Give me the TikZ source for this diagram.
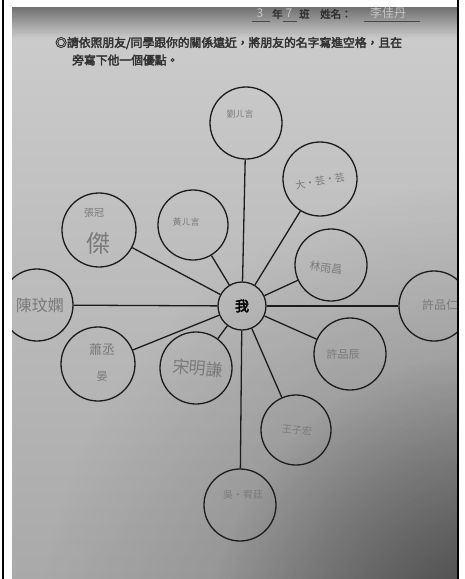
\documentclass[tikz,border=0pt]{standalone}
\usepackage{fontspec}
\usetikzlibrary{fadings}
\newfontfamily\cjk[AutoFakeBold=3]{Noto Sans CJK TC}
\definecolor{ink}{HTML}{1C1C1C}
\definecolor{pencil}{HTML}{7A7A7A}
\definecolor{paperA}{HTML}{CDCDCD}
\definecolor{paperB}{HTML}{A9A9A9}
\tikzfading[name=dimcorner,inner color=transparent!0,outer color=transparent!100]

\begin{document}
\begin{tikzpicture}[x=1pt,y=-1pt,
    ring/.style={circle,draw=ink,line width=1.3pt,minimum size=#1,inner sep=0pt},
    spoke/.style={draw=ink,line width=1.3pt},
    hand/.style={text=pencil,font=\cjk\fontsize{#1}{#1}\selectfont,inner sep=0pt},
    printed/.style={text=ink!90,font=\cjk\bfseries\fontsize{11.8}{13}\selectfont,inner sep=0pt,anchor=west}]
  \useasboundingbox (0,0) rectangle (465,579);
  \fill[white] (0,0) rectangle (465,579);
  % the photographed sheet
  \begin{scope}
    \clip (12,7) rectangle (457,579);
    \shade[top color=paperA,bottom color=paperB] (12,7) rectangle (457,579);
    % darker lower right corner, smooth
    \fill[black,fill opacity=0.3,path fading=dimcorner] (500,640) circle (460);
    \fill[black,fill opacity=0.45,path fading=dimcorner] (500,640) circle (290);
    \fill[black,fill opacity=0.45,path fading=south] (12,7) rectangle (457,38);
    % heading
    \node[hand=12,text=gray!45] (grade) at (260,13) {3};
    \draw[ink!80,line width=0.6pt] (252,21) -- (270,21);
    \node[printed,font=\cjk\bfseries\fontsize{10.5}{12}\selectfont] (nian) at (272,14) {年};
    \node[hand=12,text=gray!45] (cls) at (289,13) {7};
    \draw[ink!80,line width=0.6pt] (283,21) -- (297,21);
    \node[printed,font=\cjk\bfseries\fontsize{10.5}{12}\selectfont] (ban) at (299,14) {班};
    \node[printed,font=\cjk\bfseries\fontsize{10.5}{12}\selectfont] (xm) at (320,14) {姓名：};
    \draw[ink!80,line width=0.6pt] (364,21) -- (420,21);
    \node[hand=12,text=gray!45,anchor=west] (myname) at (370,13) {李佳丹};
    \node[printed] (ask1) at (55,43) {◎請依照朋友/同學跟你的關係遠近，將朋友的名字寫進空格，且在};
    \node[printed] (ask2) at (72,60) {旁寫下他一個優點。};
    % center and friends
    \node[ring=48pt,font=\cjk\bfseries\fontsize{14}{14}\selectfont] (me) at (242,306) {我};
    \node[ring=72pt] (liu) at (246,123) {};
    \node[ring=74pt] (da) at (320,179) {};
    \node[ring=74pt] (jie) at (99,230) {};
    \node[ring=70pt] (huang) at (193,225) {};
    \node[ring=72pt] (lin) at (331,265) {};
    \node[ring=72pt] (chen) at (37,305) {};
    \node[ring=70pt] (xu) at (434,306) {};
    \node[ring=74pt] (xiao) at (98,364) {};
    \node[ring=72pt] (song) at (196,368) {};
    \node[ring=72pt] (xuc) at (350,354) {};
    \node[ring=70pt] (wang) at (296,430) {};
    \node[ring=72pt] (wu) at (240,505) {};
    \foreach \f in {liu,da,jie,huang,lin,chen,xu,xiao,song,xuc,wang,wu}
      \draw[spoke] (me) -- (\f);
    % handwritten names
    \node[hand=9] at (240,114) {劉ㄦ言};
    \node[hand=10,rotate=10] at (320,181) {大·芸·芸};
    \node[hand=10] at (94,213) {張冠};
    \node[hand=24] at (98,243) {傑};
    \node[hand=9] at (186,222) {黃ㄦ言};
    \node[hand=11,rotate=-8] at (326,268) {林雨昌};
    \node[hand=16] at (40,305) {陳玟嫻};
    \node[hand=12] at (440,305) {許品仁};
    \node[hand=13] at (102,350) {蕭丞};
    \node[hand=11] at (102,377) {晏};
    \node[hand=17,rotate=-5] at (198,368) {宋明謙};
    \node[hand=11] at (343,354) {許品辰};
    \node[hand=10,rotate=-5] at (297,430) {王子宏};
    \node[hand=10] at (243,495) {吳·宥廷};
  \end{scope}
  % frame
  \draw[line width=1.2pt] (3,0) -- (3,579);
  \draw[line width=2pt] (457.5,0) -- (457.5,579);
\end{tikzpicture}
\end{document}
